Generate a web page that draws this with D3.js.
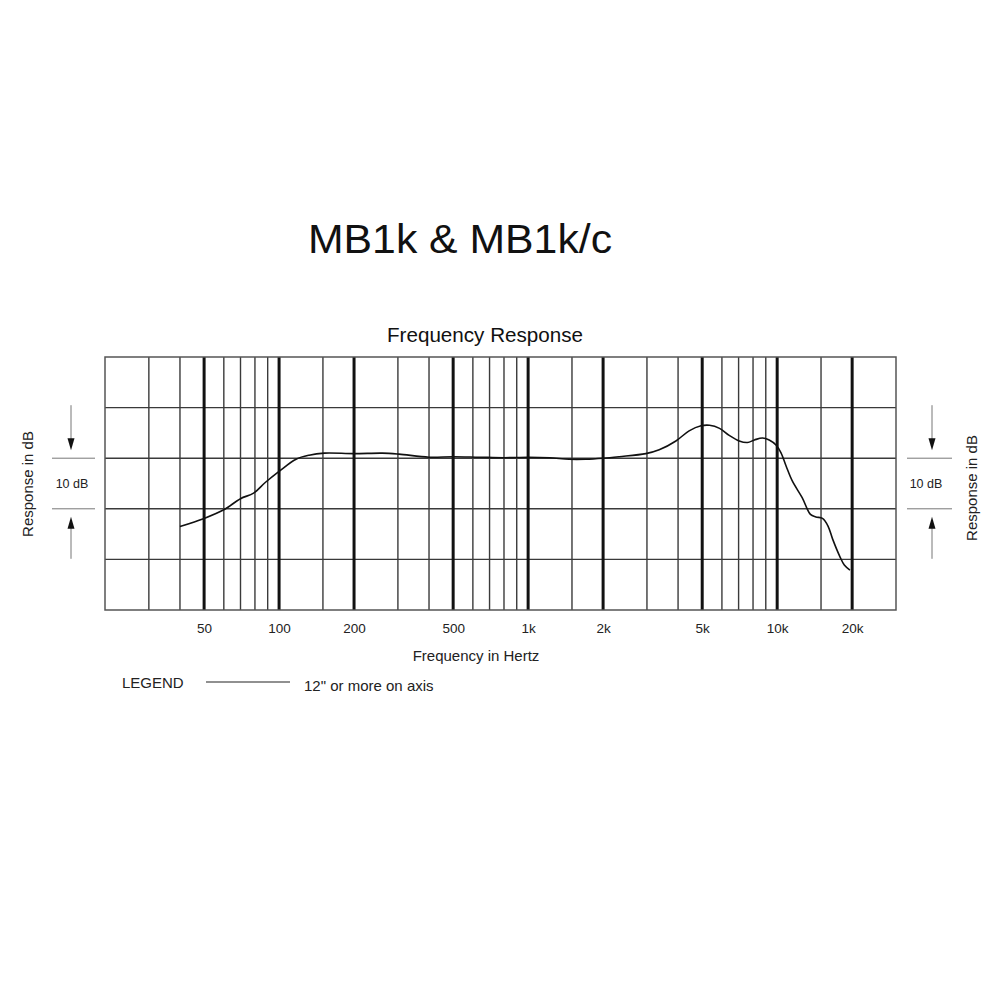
<!DOCTYPE html>
<html>
<head>
<meta charset="utf-8">
<script src="https://cdn.jsdelivr.net/npm/d3@7"></script>
<style>
  html, body { margin: 0; padding: 0; background: #fff; }
  svg { display: block; font-family: "Liberation Sans", Arial, Helvetica, sans-serif; }
</style>
</head>
<body>
<svg id="chart" width="1000" height="1000"></svg>
<script>
// ---- Data ----
const titleText = "MB1k & MB1k/c";
const subtitleText = "Frequency Response";
const xAxisTitle = "Frequency in Hertz";
const yAxisTitle = "Response in dB";
const scaleNote = "10 dB";
const legendTitle = "LEGEND";
const legendLabel = "12\" or more on axis";

const freqDomain = [20, 30000];
const dbDomain = [-30, 20];
const dbGridValues = [-20, -10, 0, 10];
const thinGridFreqs = [30, 40, 60, 70, 80, 90, 150, 300, 400, 600, 700, 800, 900, 1500, 3000, 4000, 6000, 7000, 8000, 9000, 15000];
const boldGridFreqs = [50, 100, 200, 500, 1000, 2000, 5000, 10000, 20000];
const tickValues = [50, 100, 200, 500, 1000, 2000, 5000, 10000, 20000];
const tickLabels = ["50", "100", "200", "500", "1k", "2k", "5k", "10k", "20k"];

const responseFreq = [40, 50, 60, 70, 79, 88, 100, 117, 132, 152, 200, 260, 303, 400, 500, 635, 800, 1000, 1220, 1460, 1700, 2000, 2320, 2970, 3360, 3920, 4430, 4950, 5350, 5870, 6420, 7040, 7600, 8100, 8730, 9290, 9890, 10350, 10850, 11500, 12600, 13600, 14300, 15200, 16000, 16700, 17800, 18600, 19600];
const responseDb = [-13.5, -11.9, -10.2, -8.0, -6.9, -4.8, -2.6, -0.2, 0.6, 1.0, 0.9, 1.0, 0.8, 0.2, 0.3, 0.2, 0.1, 0.2, 0.1, -0.2, -0.2, 0.0, 0.3, 0.9, 1.65, 3.4, 5.4, 6.4, 6.5, 5.9, 4.5, 3.4, 3.1, 3.6, 4.0, 3.6, 2.6, 1.1, -1.5, -4.5, -7.8, -11.1, -11.6, -11.9, -13.4, -16.0, -19.3, -21.1, -22.1];

// ---- Layout ----
const svg = d3.select("#chart");
const plot = { left: 105, right: 896, top: 357, bottom: 610 };

const x = d3.scaleLog().domain(freqDomain).range([plot.left, plot.right]);
const y = d3.scaleLinear().domain(dbDomain).range([plot.bottom, plot.top]);

// Title
svg.append("text")
  .attr("x", 460).attr("y", 253)
  .attr("text-anchor", "middle")
  .attr("font-size", 40)
  .attr("fill", "#111")
  .attr("textLength", 304).attr("lengthAdjust", "spacingAndGlyphs")
  .text(titleText);

svg.append("text")
  .attr("x", 485).attr("y", 342)
  .attr("text-anchor", "middle")
  .attr("font-size", 19.5)
  .attr("fill", "#111")
  .attr("textLength", 196).attr("lengthAdjust", "spacingAndGlyphs")
  .text(subtitleText);

// Grid
const grid = svg.append("g");
grid.selectAll("line.h")
  .data(dbGridValues)
  .join("line")
  .attr("x1", plot.left).attr("x2", plot.right)
  .attr("y1", d => y(d)).attr("y2", d => y(d))
  .attr("stroke", "#3a3a3a").attr("stroke-width", 1.4);

grid.selectAll("line.vthin")
  .data(thinGridFreqs)
  .join("line")
  .attr("class", "vthin")
  .attr("x1", d => x(d)).attr("x2", d => x(d))
  .attr("y1", plot.top).attr("y2", plot.bottom)
  .attr("stroke", "#3a3a3a").attr("stroke-width", 1.4);

grid.selectAll("line.vbold")
  .data(boldGridFreqs)
  .join("line")
  .attr("class", "vbold")
  .attr("x1", d => x(d)).attr("x2", d => x(d))
  .attr("y1", plot.top).attr("y2", plot.bottom)
  .attr("stroke", "#111").attr("stroke-width", 3);

grid.append("rect")
  .attr("x", x(freqDomain[0])).attr("y", y(dbDomain[1]))
  .attr("width", x(freqDomain[1]) - x(freqDomain[0]))
  .attr("height", y(dbDomain[0]) - y(dbDomain[1]))
  .attr("fill", "none").attr("stroke", "#555").attr("stroke-width", 1.5);

// X axis labels
const xAxis = d3.axisBottom(x)
  .tickValues(tickValues)
  .tickFormat((d, i) => tickLabels[i])
  .tickSize(0)
  .tickPadding(13);
const gx = svg.append("g")
  .attr("transform", `translate(0,${plot.bottom})`)
  .call(xAxis);
gx.select(".domain").remove();
gx.selectAll("text")
  .attr("font-size", 13.5)
  .attr("fill", "#222")
  .attr("font-family", "'Liberation Sans', Arial, sans-serif");

svg.append("text")
  .attr("x", 476).attr("y", 661)
  .attr("text-anchor", "middle")
  .attr("font-size", 15)
  .attr("fill", "#222")
  .text(xAxisTitle);

// Response curve
const pts = responseFreq.map((f, i) => [f, responseDb[i]]);
const line = d3.line()
  .x(d => x(d[0]))
  .y(d => y(d[1]))
  .curve(d3.curveCatmullRom.alpha(0.5));
svg.append("path")
  .datum(pts)
  .attr("d", line)
  .attr("fill", "none")
  .attr("stroke", "#111")
  .attr("stroke-width", 1.6)
  .attr("stroke-linejoin", "round");

// 10 dB scale annotation (both sides)
function scaleMarker(cx, textX, x1, x2) {
  const g = svg.append("g");
  [0, -10].forEach(v => {
    g.append("line")
      .attr("x1", x1).attr("x2", x2)
      .attr("y1", y(v)).attr("y2", y(v))
      .attr("stroke", "#777").attr("stroke-width", 1);
  });
  const yTop = y(0), yBot = y(-10);
  g.append("line").attr("x1", cx).attr("x2", cx)
    .attr("y1", yTop - 53).attr("y2", yTop - 18)
    .attr("stroke", "#777").attr("stroke-width", 1);
  g.append("path")
    .attr("d", `M${cx - 3.5},${yTop - 20} L${cx + 3.5},${yTop - 20} L${cx},${yTop - 8} Z`)
    .attr("fill", "#111");
  g.append("line").attr("x1", cx).attr("x2", cx)
    .attr("y1", yBot + 18).attr("y2", yBot + 50)
    .attr("stroke", "#777").attr("stroke-width", 1);
  g.append("path")
    .attr("d", `M${cx - 3.5},${yBot + 20} L${cx + 3.5},${yBot + 20} L${cx},${yBot + 8} Z`)
    .attr("fill", "#111");
  g.append("text")
    .attr("x", textX).attr("y", (yTop + yBot) / 2 + 4.5)
    .attr("text-anchor", "middle")
    .attr("font-size", 12.5)
    .attr("fill", "#222")
    .text(scaleNote);
}
scaleMarker(71, 72, 52, 95);
scaleMarker(932, 926, 907, 952);

svg.append("text")
  .attr("transform", "translate(33,484) rotate(-90)")
  .attr("text-anchor", "middle")
  .attr("font-size", 15)
  .attr("fill", "#222")
  .text(yAxisTitle);
svg.append("text")
  .attr("transform", "translate(977,488) rotate(-90)")
  .attr("text-anchor", "middle")
  .attr("font-size", 15)
  .attr("fill", "#222")
  .text(yAxisTitle);

// Legend
svg.append("text")
  .attr("x", 122).attr("y", 688)
  .attr("font-size", 15)
  .attr("fill", "#222")
  .text(legendTitle);
svg.append("line")
  .attr("x1", 206).attr("x2", 290)
  .attr("y1", 682).attr("y2", 682)
  .attr("stroke", "#222").attr("stroke-width", 1.2);
svg.append("text")
  .attr("x", 304).attr("y", 691)
  .attr("font-size", 15)
  .attr("fill", "#222")
  .text(legendLabel);
</script>
</body>
</html>
